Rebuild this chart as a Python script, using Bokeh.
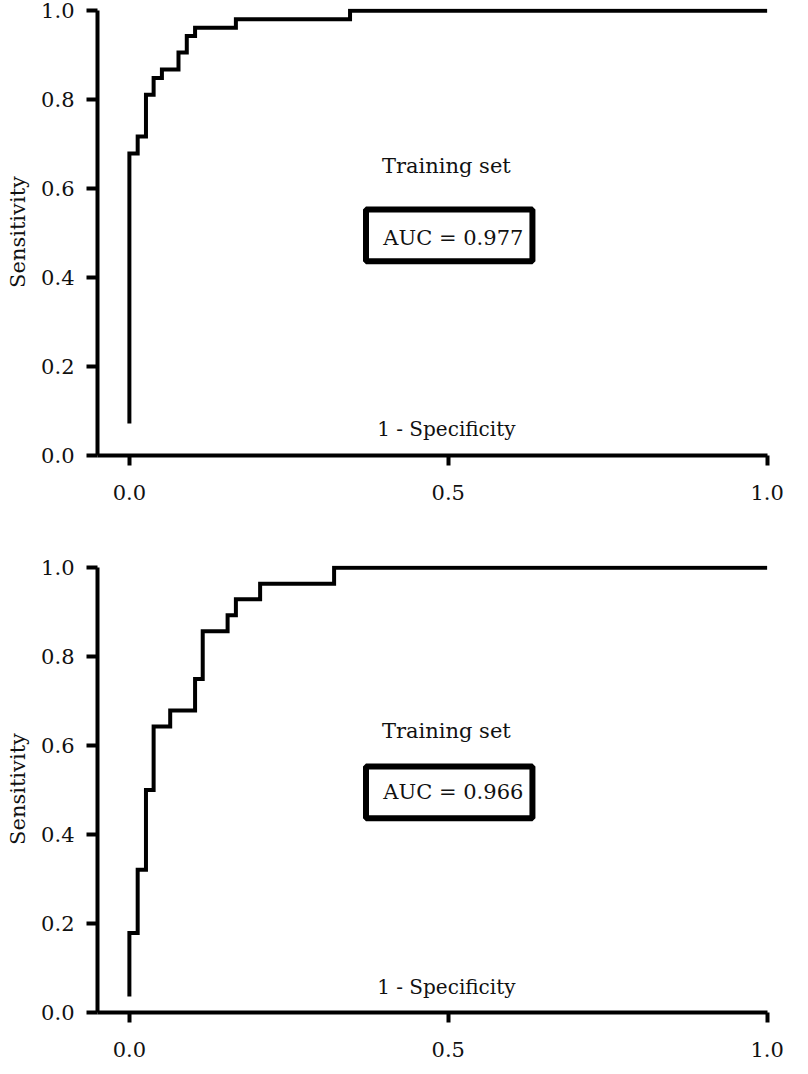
from bokeh.plotting import figure
from bokeh.layouts import column
from bokeh.models import Range1d, FixedTicker, Label, PrintfTickFormatter, BoxAnnotation
from bokeh.embed import file_html
from bokeh.resources import INLINE

# ---- data ----
x_ticks = [0.0, 0.5, 1.0]
y_ticks = [0.0, 0.2, 0.4, 0.6, 0.8, 1.0]

# Panel 1 ROC points (1 - specificity, sensitivity)
fpr_top = [0.0, 0.0, 0.013, 0.026, 0.038, 0.051, 0.077, 0.090, 0.103, 0.167, 0.346, 1.0]
tpr_top = [0.072, 0.679, 0.717, 0.811, 0.849, 0.868, 0.906, 0.943, 0.962, 0.981, 1.0, 1.0]
auc_top = "AUC = 0.977"

# Panel 2 ROC points
fpr_bot = [0.0, 0.0, 0.013, 0.026, 0.038, 0.064, 0.103, 0.115, 0.154, 0.167, 0.205, 0.321, 1.0]
tpr_bot = [0.036, 0.179, 0.321, 0.500, 0.643, 0.679, 0.750, 0.857, 0.893, 0.929, 0.964, 1.0, 1.0]
auc_bot = "AUC = 0.966"

set_title = "Training set"
x_title = "1 - Specificity"
y_title = "Sensitivity"

FONT = "DejaVu Serif"
INK = "#111111"
LW = 4


def panel(fpr, tpr, auc, height, top_border, bottom_border, train_y, auc_y, spec_y):
    p = figure(width=793, height=height,
               x_range=Range1d(-0.05, 1.01), y_range=Range1d(0.0, 1.005),
               output_backend="svg", toolbar_location=None,
               min_border_left=97, min_border_right=20,
               min_border_top=top_border, min_border_bottom=bottom_border)
    p.grid.visible = False
    p.outline_line_color = None
    p.background_fill_color = "white"

    p.step(fpr, tpr, mode="after", line_width=LW, line_color="black", line_join="miter")

    # axes
    xa = p.xaxis[0]
    xa.ticker = FixedTicker(ticks=x_ticks)
    xa.formatter = PrintfTickFormatter(format="%.1f")
    xa.bounds = (-0.05, 1.0)
    xa.axis_line_width = LW
    xa.axis_line_color = "black"
    xa.major_tick_line_width = LW
    xa.major_tick_in = 0
    xa.major_tick_out = 10
    xa.minor_tick_line_color = None
    xa.major_label_standoff = 19
    xa.major_label_text_font = FONT
    xa.major_label_text_font_size = "21px"
    xa.major_label_text_color = INK

    ya = p.yaxis[0]
    ya.ticker = FixedTicker(ticks=y_ticks)
    ya.formatter = PrintfTickFormatter(format="%.1f")
    ya.bounds = (0.0, 1.0)
    ya.axis_line_width = LW
    ya.axis_line_color = "black"
    ya.major_tick_line_width = LW
    ya.major_tick_in = 0
    ya.major_tick_out = 11
    ya.minor_tick_line_color = None
    ya.major_label_standoff = 12
    ya.major_label_text_font = FONT
    ya.major_label_text_font_size = "21px"
    ya.major_label_text_color = INK
    ya.axis_label = y_title
    ya.axis_label_text_font = FONT
    ya.axis_label_text_font_size = "21px"
    ya.axis_label_text_font_style = "normal"
    ya.axis_label_text_color = INK
    ya.axis_label_standoff = 8

    box = BoxAnnotation(left=0.371, right=0.632, bottom=0.437, top=0.553,
                        fill_color="white", fill_alpha=1.0,
                        line_color="black", line_alpha=1.0, line_width=6)
    p.add_layout(box)

    p.add_layout(Label(x=0.497, y=train_y, text=set_title, text_align="center",
                       text_baseline="middle", text_font=FONT, text_font_size="21px",
                       text_color=INK))
    p.add_layout(Label(x=0.508, y=auc_y, text=auc, text_align="center",
                       text_baseline="middle", text_font=FONT, text_font_size="21px",
                       text_color=INK))
    p.add_layout(Label(x=0.497, y=spec_y, text=x_title, text_align="center",
                       text_baseline="middle", text_font=FONT, text_font_size="20px",
                       text_color=INK))
    return p


p1 = panel(fpr_top, tpr_top, auc_top, height=549, top_border=8, bottom_border=94,
           train_y=0.652, auc_y=0.49, spec_y=0.06)
p2 = panel(fpr_bot, tpr_bot, auc_bot, height=517, top_border=16, bottom_border=54,
           train_y=0.632, auc_y=0.496, spec_y=0.058)

layout = column(p1, p2)
open("out.html", "w").write(file_html(layout, INLINE))
